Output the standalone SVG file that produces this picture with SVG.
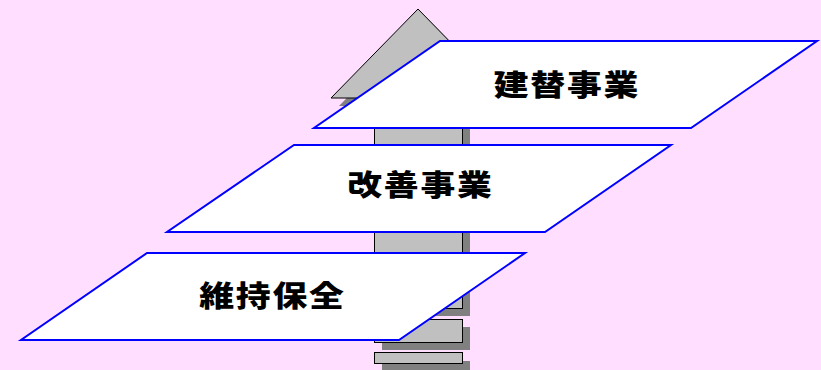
<svg xmlns="http://www.w3.org/2000/svg" width="821" height="370" viewBox="0 0 821 370">
  <style>
    .shadow { fill: #808080; stroke: none; }
    .post { fill: #C0C0C0; stroke: #000000; stroke-width: 1; }
    .board { fill: #FFFFFF; stroke: #0000FF; stroke-width: 2; stroke-linejoin: miter; }
    .label { font-family: "Noto Sans CJK JP", "Noto Sans CJK SC", sans-serif; font-weight: 900; font-size: 29px; letter-spacing: 1.5px; text-anchor: middle; fill: #000000; }
  </style>
  <rect x="0" y="0" width="821" height="370" fill="#FFDEFF"/>

  <!-- signpost: roof, pole and footing blocks -->
  <g id="post">
    <polygon class="shadow" points="426,17 339,106 513,106"/>
    <polygon class="post" points="418,9 331,98 505,98"/>
    <rect class="shadow" x="382" y="106" width="88" height="210"/>
    <rect class="post" x="374.5" y="98.5" width="88" height="210"/>
    <rect class="shadow" x="382" y="327" width="88" height="23"/>
    <rect class="post" x="374.5" y="319.5" width="88" height="23"/>
    <rect class="shadow" x="382" y="361" width="88" height="12"/>
    <rect class="post" x="374.5" y="352.5" width="88" height="11"/>
  </g>

  <g id="node-rebuild">
    <polygon class="board" points="440,41 817,41 691,128 314,128"/>
    <text class="label" transform="translate(566,95.5) scale(1.2,1)" x="0.75" y="0">建替事業</text>
  </g>

  <g id="node-improve">
    <polygon class="board" points="294,145 671,145 545,232 167,232"/>
    <text class="label" transform="translate(419.5,195.5) scale(1.2,1)" x="0.75" y="0">改善事業</text>
  </g>

  <g id="node-maintain">
    <polygon class="board" points="147,253 525,253 399,340 21,340"/>
    <text class="label" transform="translate(271.5,306.5) scale(1.2,1)" x="0.75" y="0">維持保全</text>
  </g>
</svg>
